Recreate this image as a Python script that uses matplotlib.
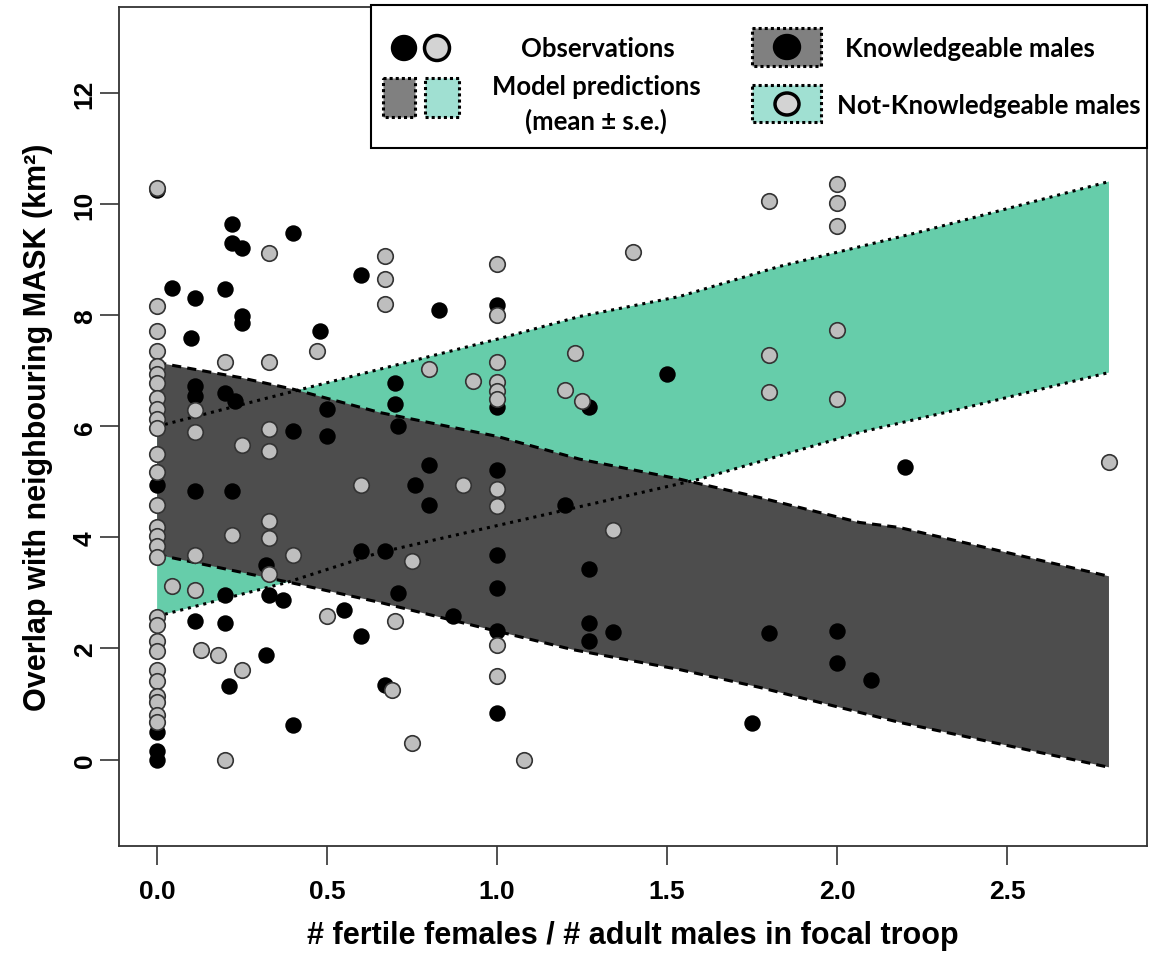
import numpy as np
import matplotlib.pyplot as plt
from matplotlib.patches import Rectangle, Ellipse

# observations: knowledgeable males (black)
know_x = [0, 0, 0, 0, 0,
          0.043, 0.11, 0.20, 0.22, 0.22, 0.25, 0.40, 0.10, 0.25, 0.25, 0.60, 0.48,
          0.11, 0.11, 0.20, 0.23, 0.50, 0.50, 0.40, 0.70, 0.70, 0.71, 0.11, 0.22,
          0.60, 0.67, 0.32, 0.20, 0.33, 0.37, 0.71, 0.11, 0.20, 0.55, 0.60, 0.32,
          0.21, 0.67, 0.40, 0.80, 0.76, 0.80, 1.0, 1.20, 1.0, 1.0, 1.27, 0.87,
          1.0, 1.27, 1.27, 1.34, 1.80, 1.0, 1.75, 0.83, 1.0, 1.0, 1.27, 1.50,
          2.20, 2.0, 2.0, 2.10]
know_y = [10.25, 4.95, 0.50, 0.15, 0.0,
          8.50, 8.32, 8.47, 9.64, 9.31, 9.22, 9.48, 7.60, 7.99, 7.87, 8.72, 7.71,
          6.73, 6.55, 6.61, 6.46, 6.31, 5.83, 5.92, 6.79, 6.40, 6.00, 4.83, 4.83,
          3.75, 3.75, 3.50, 2.97, 2.97, 2.87, 3.00, 2.49, 2.46, 2.70, 2.22, 1.88,
          1.32, 1.35, 0.62, 5.30, 4.95, 4.59, 5.21, 4.59, 3.69, 3.09, 3.43, 2.59,
          2.32, 2.46, 2.13, 2.29, 2.28, 0.84, 0.66, 8.10, 8.18, 6.35, 6.35, 6.94,
          5.27, 2.31, 1.74, 1.44]

# observations: not-knowledgeable males (grey)
notk_x = [0] * 28 + [
          0.33, 0.67, 0.67, 0.67, 0.47, 0.33, 0.20, 0.11, 0.11, 0.33, 0.33, 0.25,
          0.60, 0.33, 0.33, 0.22, 0.40, 0.11, 0.33, 0.043, 0.11, 0.50, 0.70, 0.13,
          0.18, 0.25, 0.69, 0.20, 0.90, 1.0, 1.0, 0.75, 1.34, 1.0, 1.0, 0.75,
          1.08, 1.0, 1.40, 1.80, 1.0, 0.80, 1.23, 1.0, 0.93, 1.0, 1.0, 1.0,
          1.20, 1.25, 1.80, 1.80, 2.0, 2.0, 2.0, 2.0, 2.0, 2.80]
notk_y = [10.30, 8.16, 7.71, 7.35, 7.08, 6.94, 6.79, 6.52, 6.31, 6.13, 5.98,
          5.51, 5.17, 4.59, 4.18, 4.02, 3.84, 3.64, 2.56, 2.43, 2.13, 1.95, 1.62,
          1.41, 1.14, 1.03, 0.81, 0.68,
          9.13, 9.07, 8.66, 8.20, 7.36, 7.16, 7.16, 6.29, 5.90, 5.96, 5.56, 5.66,
          4.95, 4.29, 3.99, 4.04, 3.68, 3.68, 3.35, 3.12, 3.05, 2.58, 2.49, 1.98,
          1.89, 1.62, 1.26, 0.0, 4.94, 4.88, 4.56, 3.57, 4.13, 2.07, 1.51, 0.30,
          0.0, 8.92, 9.14, 10.06, 8.0, 7.04, 7.33, 7.16, 6.82, 6.80, 6.64, 6.50,
          6.65, 6.46, 7.28, 6.62, 10.36, 10.03, 9.61, 7.73, 6.49, 5.36]

# model predictions (mean +/- s.e.) band edges
know_up_x = [0, 0.244, 0.40, 0.655, 1.0, 1.243, 1.537, 1.772, 2.066, 2.183, 2.8]
know_up_y = [7.15, 6.88, 6.67, 6.25, 5.82, 5.41, 5.05, 4.72, 4.27, 4.18, 3.30]
know_lo_x = [0, 0.39, 0.655, 1.0, 1.222, 1.537, 1.772, 2.183, 2.8]
know_lo_y = [3.69, 3.19, 2.83, 2.31, 1.98, 1.62, 1.30, 0.67, -0.14]
notk_up_x = [0, 0.40, 0.655, 1.0, 1.243, 1.537, 1.83, 2.242, 2.8]
notk_up_y = [6.0, 6.63, 7.03, 7.57, 7.98, 8.34, 8.88, 9.50, 10.41]
notk_lo_x = [0, 0.382, 0.655, 1.205, 1.596, 2.066, 2.36, 2.8]
notk_lo_y = [2.58, 3.19, 3.73, 4.50, 5.05, 5.89, 6.31, 6.97]

xticks = [0.0, 0.5, 1.0, 1.5, 2.0, 2.5]
yticks = [0, 2, 4, 6, 8, 10, 12]

dark = '#4d4d4d'
teal = '#66cdaa'
grey = '#bebebe'

plt.rcParams['font.family'] = ['Liberation Sans', 'DejaVu Sans']
plt.rcParams['font.weight'] = 'bold'

fig = plt.figure(figsize=(11.49, 9.54), dpi=100)
ax = fig.add_axes([0.1036, 0.112, 0.8947, 0.880])

# bands: teal first, then dark on top, then edge lines
ax.fill(notk_up_x + notk_lo_x[::-1], notk_up_y + notk_lo_y[::-1], color=teal, lw=0, zorder=1)
ax.fill(know_up_x + know_lo_x[::-1], know_up_y + know_lo_y[::-1], color=dark, lw=0, zorder=2)
ax.plot(know_up_x, know_up_y, color='black', lw=2.2, dashes=(3, 2), zorder=3)
ax.plot(know_lo_x, know_lo_y, color='black', lw=2.2, dashes=(3, 2), zorder=3)
ax.plot(notk_up_x, notk_up_y, color='black', lw=2.2, dashes=(1, 1.6), zorder=3)
ax.plot(notk_lo_x, notk_lo_y, color='black', lw=2.2, dashes=(1, 1.6), zorder=3)

ax.scatter(know_x, know_y, s=140, color='black', lw=0, zorder=4)
ax.scatter(notk_x, notk_y, s=125, color=grey, edgecolors='#333333', lw=1.2, zorder=5)

ax.set_xlim(-0.112, 2.912)
ax.set_ylim(-1.56, 13.56)
ax.set_xticks(xticks)
ax.set_xticklabels(['%.1f' % t for t in xticks])
ax.set_yticks(yticks)
ax.set_yticklabels([str(t) for t in yticks], rotation=90, va='center')
ax.tick_params(labelsize=19, length=14, width=1.2, color='#333333')
ax.tick_params(axis='x', pad=10)
ax.tick_params(axis='y', pad=2)
for s in ax.spines.values():
    s.set_linewidth(1.3)
    s.set_color('#333333')
ax.set_xlabel('# fertile females / # adult males in focal troop', fontsize=22,
              fontweight='bold', labelpad=12)
ax.set_ylabel('Overlap with neighbouring MASK (km²)', fontsize=22,
              fontweight='bold', labelpad=14)

# custom legend drawn in pixel space
lg = fig.add_axes([0, 0, 1, 1], zorder=10)
lg.set_xlim(0, 1149)
lg.set_ylim(954, 0)
lg.axis('off')
lg.add_patch(Rectangle((371, 6), 776, 143, facecolor='white', edgecolor='black', lw=1.5))
lg.add_patch(Ellipse((404, 49), 25, 25, facecolor='black', edgecolor='black', lw=1))
lg.add_patch(Ellipse((437, 49), 25, 25, facecolor='#d3d3d3', edgecolor='black', lw=2.5))
lg.add_patch(Rectangle((383, 79), 32, 39, facecolor='#808080', edgecolor='black', lw=2.2, ls=(0, (1, 1))))
lg.add_patch(Rectangle((425, 79), 34, 39, facecolor='#a0e0d2', edgecolor='black', lw=2.2, ls=(0, (1, 1))))
lg.add_patch(Rectangle((752, 29), 69, 38, facecolor='#808080', edgecolor='black', lw=2.2, ls=(0, (1, 1))))
lg.add_patch(Ellipse((787, 48), 27, 25, facecolor='black', edgecolor='black', lw=1))
lg.add_patch(Rectangle((752, 86), 69, 37, facecolor='#a0e0d2', edgecolor='black', lw=2.2, ls=(0, (1, 1))))
lg.add_patch(Ellipse((787, 105), 24, 22, facecolor='#d3d3d3', edgecolor='black', lw=2.5))
tkw = dict(family=['Lato', 'DejaVu Sans'], fontweight='bold', fontsize=18.5, va='center')
lg.text(598, 49, 'Observations', ha='center', **tkw)
lg.text(596, 87, 'Model predictions', ha='center', **tkw)
lg.text(596, 121, '(mean ± s.e.)', ha='center', **tkw)
lg.text(845, 49, 'Knowledgeable males', ha='left', **tkw)
lg.text(837, 106, 'Not-Knowledgeable males', ha='left', **tkw)

fig.savefig('out.png', dpi=100)
